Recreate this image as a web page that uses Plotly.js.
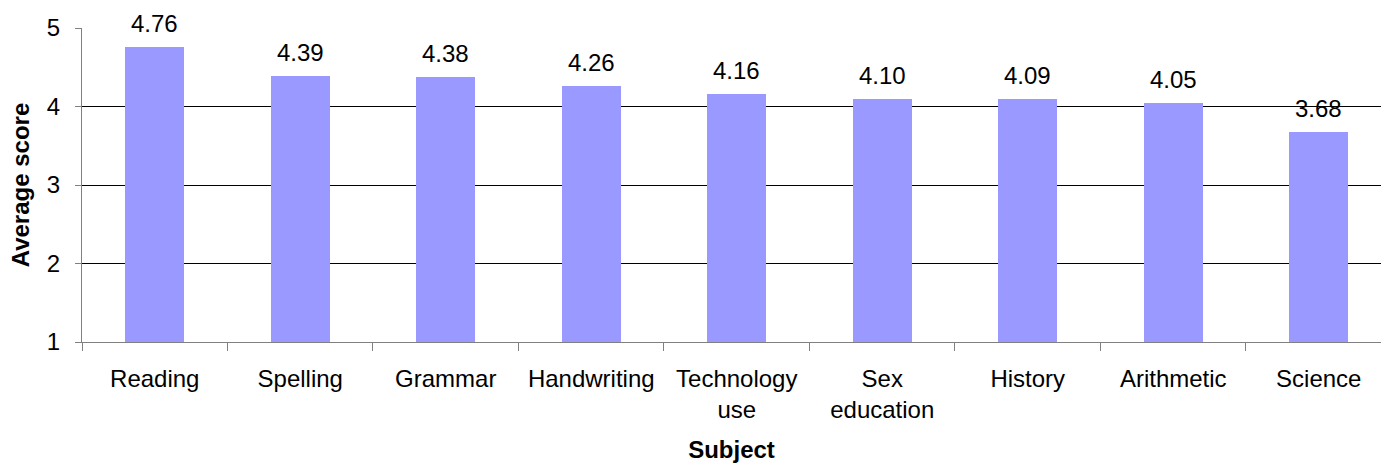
<!DOCTYPE html>
<html>
<head>
<meta charset="utf-8">
<script src="https://cdn.plot.ly/plotly-3.0.1.min.js"></script>
<style>
  html, body { margin: 0; padding: 0; background: #fff; }
  #chart { width: 1381px; height: 463px; }
</style>
</head>
<body>
<div id="chart"></div>
<script>
// Average score per school subject
const categories = ['Reading', 'Spelling', 'Grammar', 'Handwriting', 'Technology use',
                    'Sex education', 'History', 'Arithmetic', 'Science'];
const scores = [4.76, 4.39, 4.38, 4.26, 4.16, 4.10, 4.09, 4.05, 3.68];
const tickLabels = ['Reading', 'Spelling', 'Grammar', 'Handwriting', 'Technology<br>use',
                    'Sex<br>education', 'History', 'Arithmetic', 'Science'];
const yTicks = [1, 2, 3, 4, 5];

const FONT = '"Liberation Sans", Arial, sans-serif';

const trace = {
  type: 'bar',
  x: categories,
  y: scores,
  width: 0.405,
  marker: { color: '#9999FF', line: { width: 0 } },
  hoverinfo: 'x+y'
};

// value labels above each bar
const valueLabels = scores.map((v, i) => ({
  x: categories[i],
  y: v,
  xref: 'x',
  yref: 'y',
  text: v.toFixed(2),
  showarrow: false,
  yanchor: 'bottom',
  yshift: 8,
  font: { family: FONT, size: 24, color: '#000' }
}));

const layout = {
  width: 1381,
  height: 463,
  margin: { l: 82, r: 0, t: 28, b: 121 },
  paper_bgcolor: '#fff',
  plot_bgcolor: '#fff',
  font: { family: FONT, size: 24, color: '#000' },
  showlegend: false,
  bargap: 0,
  xaxis: {
    type: 'category',
    range: [-0.5, 8.428],
    tickmode: 'array',
    tickvals: categories,
    ticktext: tickLabels,
    tickson: 'boundaries',
    ticks: 'outside',
    ticklen: 8,
    tickcolor: '#808080',
    tickwidth: 1,
    ticklabelstandoff: 15,
    showline: true,
    linecolor: '#808080',
    linewidth: 1,
    showgrid: false,
    zeroline: false,
    tickfont: { family: FONT, size: 24, color: '#000' },
    title: { text: '<b>Subject</b>', font: { family: FONT, size: 24, color: '#000' }, standoff: 19 }
  },
  yaxis: {
    range: [1, 5],
    tickmode: 'array',
    tickvals: yTicks,
    ticks: 'outside',
    ticklen: 6,
    tickcolor: '#808080',
    tickwidth: 1,
    ticklabelstandoff: 10,
    showline: true,
    linecolor: '#808080',
    linewidth: 1,
    showgrid: true,
    gridcolor: '#000',
    gridwidth: 1,
    zeroline: false,
    tickfont: { family: FONT, size: 24, color: '#000' },
    title: { text: '<b>Average score</b>', font: { family: FONT, size: 24, color: '#000' }, standoff: 10 }
  },
  annotations: valueLabels
};

Plotly.newPlot('chart', [trace], layout, { displayModeBar: false, staticPlot: true });
</script>
</body>
</html>
